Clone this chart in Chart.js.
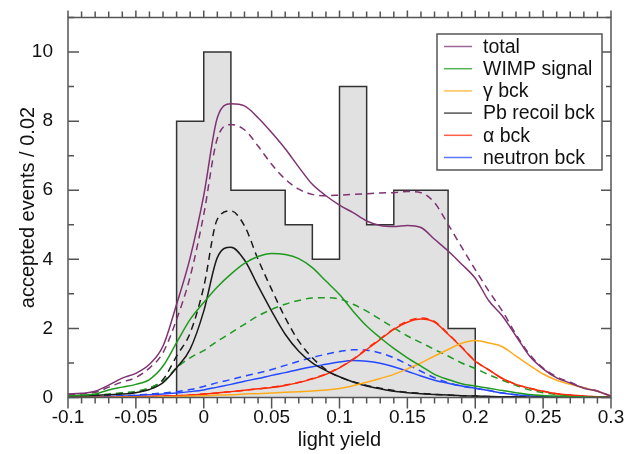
<!DOCTYPE html>
<html>
<head>
<meta charset="utf-8">
<script src="https://cdn.jsdelivr.net/npm/chart.js@4.4.1/dist/chart.umd.min.js"></script>
<style>
  html, body { margin: 0; padding: 0; background: #fff; }
  #wrap { width: 628px; height: 454px; }
</style>
</head>
<body>
<div id="wrap"><canvas id="c" width="628" height="454"></canvas></div>
<script>
// histogram of accepted events, bin width 0.02
var binLow = [-0.02, 0, 0.02, 0.04, 0.06, 0.08, 0.10, 0.12, 0.14, 0.16, 0.18];
var binCounts = [8, 10, 6, 6, 5, 4, 9, 5, 6, 6, 2];
var binWidth = 0.02;

// light-yield grid for the fitted spectra
var lightYield = [-0.1, -0.09, -0.08, -0.07, -0.06, -0.05, -0.04, -0.03, -0.02, -0.01,
  0, 0.01, 0.02, 0.03, 0.04, 0.05, 0.06, 0.07, 0.08, 0.09,
  0.1, 0.11, 0.12, 0.13, 0.14, 0.15, 0.16, 0.17, 0.18, 0.19,
  0.2, 0.21, 0.22, 0.23, 0.24, 0.25, 0.26, 0.27, 0.28, 0.29, 0.3];

// solid = best fit, dashed = alternative fit
var totalFit = [0.10, 0.12, 0.18, 0.36, 0.56, 0.70, 0.96, 1.49, 2.70, 4.05,
  5.85, 8.10, 8.50, 8.44, 8.10, 7.67, 7.20, 6.67, 6.17, 5.84,
  5.57, 5.35, 5.11, 4.98, 4.95, 4.98, 4.92, 4.58, 4.24, 3.86,
  3.45, 2.80, 2.36, 1.78, 1.20, 0.83, 0.57, 0.42, 0.27, 0.18, 0.04];
var totalAlt = [0.08, 0.10, 0.15, 0.30, 0.45, 0.58, 0.85, 1.30, 2.26, 3.50,
  5.30, 7.50, 7.90, 7.75, 7.28, 6.75, 6.32, 6.03, 5.88, 5.84,
  5.86, 5.88, 5.90, 5.92, 5.93, 5.96, 5.93, 5.64, 5.01, 4.35,
  3.70, 3.08, 2.50, 1.83, 1.25, 0.85, 0.60, 0.44, 0.28, 0.19, 0.04];
var wimpFit = [0.05, 0.07, 0.10, 0.22, 0.30, 0.38, 0.52, 0.91, 1.59, 2.26,
  2.75, 3.20, 3.57, 3.88, 4.08, 4.17, 4.14, 4.02, 3.76, 3.37,
  2.98, 2.50, 2.07, 1.73, 1.42, 1.15, 0.91, 0.67, 0.52, 0.40,
  0.33, 0.27, 0.20, 0.14, 0.09, 0.06, 0.04, 0.03, 0.02, 0.01, 0.01];
var wimpAlt = [0.04, 0.05, 0.07, 0.10, 0.14, 0.18, 0.28, 0.47, 0.86, 1.15,
  1.36, 1.63, 1.87, 2.12, 2.36, 2.55, 2.70, 2.81, 2.88, 2.89,
  2.85, 2.70, 2.50, 2.26, 2.02, 1.78, 1.59, 1.39, 1.20, 1.00,
  0.84, 0.66, 0.50, 0.35, 0.22, 0.14, 0.09, 0.05, 0.03, 0.02, 0.01];
var gammaFit = [0, 0, 0, 0, 0.01, 0.01, 0.01, 0.02, 0.03, 0.04,
  0.05, 0.07, 0.08, 0.10, 0.11, 0.13, 0.15, 0.17, 0.19, 0.22,
  0.26, 0.34, 0.44, 0.55, 0.67, 0.83, 1.00, 1.20, 1.39, 1.57,
  1.65, 1.58, 1.47, 1.20, 0.93, 0.68, 0.50, 0.38, 0.28, 0.18, 0.04];
var pbFit = [0.03, 0.04, 0.06, 0.08, 0.10, 0.14, 0.23, 0.43, 0.86, 1.40,
  2.50, 4.05, 4.35, 3.98, 3.23, 2.50, 1.83, 1.34, 1.00, 0.78,
  0.60, 0.45, 0.33, 0.25, 0.18, 0.14, 0.11, 0.09, 0.07, 0.05,
  0.04, 0.03, 0.02, 0.02, 0.01, 0.01, 0.01, 0, 0, 0, 0];
var pbAlt = [0.03, 0.04, 0.06, 0.08, 0.12, 0.16, 0.27, 0.52, 1.20, 1.87,
  3.20, 5.16, 5.40, 4.97, 4.00, 3.13, 2.31, 1.63, 1.15, 0.81,
  0.59, 0.46, 0.35, 0.27, 0.20, 0.15, 0.12, 0.09, 0.07, 0.05,
  0.04, 0.03, 0.02, 0.02, 0.01, 0.01, 0.01, 0, 0, 0, 0];
var alphaFit = [0, 0, 0.01, 0.01, 0.02, 0.02, 0.03, 0.04, 0.05, 0.07,
  0.10, 0.13, 0.17, 0.21, 0.25, 0.29, 0.35, 0.43, 0.54, 0.67,
  0.86, 1.10, 1.39, 1.68, 1.97, 2.18, 2.27, 2.18, 1.83, 1.45,
  1.05, 0.80, 0.55, 0.38, 0.27, 0.18, 0.11, 0.07, 0.04, 0.02, 0.01];
var alphaAlt = [0, 0, 0.01, 0.01, 0.02, 0.02, 0.03, 0.04, 0.05, 0.07,
  0.10, 0.13, 0.17, 0.21, 0.25, 0.30, 0.36, 0.44, 0.55, 0.68,
  0.87, 1.11, 1.41, 1.70, 1.99, 2.21, 2.30, 2.20, 1.85, 1.46,
  1.06, 0.80, 0.55, 0.38, 0.27, 0.18, 0.11, 0.07, 0.04, 0.02, 0.01];
var neutronFit = [0, 0.01, 0.02, 0.03, 0.04, 0.06, 0.08, 0.10, 0.13, 0.17,
  0.22, 0.30, 0.38, 0.47, 0.55, 0.64, 0.72, 0.81, 0.89, 0.96,
  1.03, 1.07, 1.05, 0.99, 0.89, 0.76, 0.62, 0.50, 0.41, 0.33,
  0.27, 0.20, 0.13, 0.08, 0.05, 0.03, 0.02, 0.01, 0.01, 0, 0];
var neutronAlt = [0, 0.01, 0.02, 0.04, 0.05, 0.07, 0.10, 0.13, 0.17, 0.23,
  0.32, 0.43, 0.52, 0.62, 0.71, 0.81, 0.93, 1.05, 1.16, 1.25,
  1.33, 1.38, 1.37, 1.29, 1.15, 0.96, 0.76, 0.57, 0.43, 0.33,
  0.27, 0.20, 0.13, 0.08, 0.05, 0.03, 0.02, 0.01, 0.01, 0, 0];

var FONT = '"Liberation Sans", Arial, Helvetica, sans-serif';
var DASH = [7, 5];

function pts(ys) {
  return lightYield.map(function (x, i) { return { x: x, y: ys[i] }; });
}

// closed step outline of the histogram
function histPoints() {
  var p = [{ x: binLow[0], y: 0 }];
  binLow.forEach(function (x, i) { p.push({ x: x, y: binCounts[i] }); });
  p.push({ x: binLow[binLow.length - 1] + binWidth, y: 0 });
  return p;
}

function curve(label, ys, color, dashed) {
  return {
    label: label,
    data: pts(ys),
    borderColor: color,
    borderWidth: 1.5,
    borderDash: dashed ? DASH : [],
    cubicInterpolationMode: 'monotone',
    fill: false,
    pointRadius: 0,
    inLegend: !dashed,
    order: 1
  };
}

var C_TOTAL = '#7f3373', C_WIMP = '#1f9a1f', C_GAMMA = '#ffab1a',
    C_PB = '#1a1a1a', C_ALPHA = '#ff2a0a', C_NEUTRON = '#2448ff';

var datasets = [
  curve('total', totalFit, C_TOTAL, false),
  curve('WIMP signal', wimpFit, C_WIMP, false),
  curve('\u03b3 bck', gammaFit, C_GAMMA, false),
  curve('Pb recoil bck', pbFit, C_PB, false),
  curve('\u03b1 bck', alphaFit, C_ALPHA, false),
  curve('neutron bck', neutronFit, C_NEUTRON, false),
  curve('total (alt)', totalAlt, C_TOTAL, true),
  curve('WIMP signal (alt)', wimpAlt, C_WIMP, true),
  curve('Pb recoil bck (alt)', pbAlt, C_PB, true),
  curve('\u03b1 bck (alt)', alphaAlt, C_ALPHA, true),
  curve('neutron bck (alt)', neutronAlt, C_NEUTRON, true),
  {
    label: 'data',
    data: histPoints(),
    stepped: 'before',
    borderColor: '#333',
    borderWidth: 1.5,
    backgroundColor: '#e1e1e1',
    fill: 'origin',
    pointRadius: 0,
    inLegend: false,
    order: 10
  }
];

// box frame with minor/major ticks and the in-plot legend
var framePlugin = {
  id: 'frame',
  afterDatasetsDraw: function (chart) {
    var ctx = chart.ctx, a = chart.chartArea;
    var xs = chart.scales.x, ys = chart.scales.y;
    ctx.save();
    ctx.strokeStyle = '#555';
    ctx.lineWidth = 1.5;
    ctx.strokeRect(a.left, a.top, a.right - a.left, a.bottom - a.top);

    ctx.beginPath();
    xs.ticks.forEach(function (t) {
      var px = xs.getPixelForValue(t.value);
      var major = Math.abs(Math.round(t.value * 100) % 5) === 0;
      ctx.moveTo(px, a.bottom);
      ctx.lineTo(px, a.bottom + (major ? 11 : 6));
      ctx.moveTo(px, a.top);
      ctx.lineTo(px, a.top - (major ? 7 : 6));
    });
    ys.ticks.forEach(function (t) {
      var py = ys.getPixelForValue(t.value);
      var major = t.value % 2 === 0;
      ctx.moveTo(a.left, py);
      ctx.lineTo(a.left + (major ? 11 : 6), py);
      ctx.moveTo(a.right, py);
      ctx.lineTo(a.right - (major ? 10 : 5), py);
    });
    ctx.stroke();

    // legend
    var items = chart.data.datasets.filter(function (d) { return d.inLegend; });
    var bx = 437, by = 34, bw = 165, bh = 136;
    ctx.fillStyle = '#fff';
    ctx.fillRect(bx, by, bw, bh);
    ctx.strokeStyle = '#555';
    ctx.lineWidth = 1.5;
    ctx.strokeRect(bx, by, bw, bh);
    ctx.font = '19.5px ' + FONT;
    ctx.textBaseline = 'middle';
    ctx.textAlign = 'left';
    items.forEach(function (d, i) {
      var ry = by + 12.5 + i * 22.2;
      ctx.strokeStyle = d.borderColor;
      ctx.globalAlpha = 0.75;
      ctx.lineWidth = 1.5;
      ctx.beginPath();
      ctx.moveTo(bx + 7, ry);
      ctx.lineTo(bx + 35, ry);
      ctx.stroke();
      ctx.globalAlpha = 1;
      ctx.fillStyle = '#111';
      ctx.fillText(d.label, bx + 46, ry + 1);
    });
    ctx.restore();
  }
};

new Chart(document.getElementById('c'), {
  type: 'line',
  data: { datasets: datasets },
  options: {
    responsive: false,
    animation: false,
    devicePixelRatio: 1,
    layout: { padding: { top: 17.5, right: 17, left: 0, bottom: 0 } },
    plugins: { legend: { display: false }, tooltip: { enabled: false } },
    scales: {
      x: {
        type: 'linear', min: -0.1, max: 0.3,
        grid: { display: false, drawTicks: false },
        border: { display: false },
        ticks: {
          stepSize: 0.01, autoSkip: false, maxRotation: 0, padding: 9,
          color: '#111', font: { family: FONT, size: 19 },
          callback: function (v) {
            var k = Math.round(v * 100);
            return k % 5 === 0 ? String(+(k / 100).toFixed(2)) : '';
          }
        },
        title: {
          display: true, text: 'light yield', color: '#111',
          font: { family: FONT, size: 20 }, padding: { top: 0, bottom: 2 }
        },
        afterFit: function (s) {
          s.height = 56.5;
          s.paddingLeft = 0;
          s.paddingRight = 0;
        }
      },
      y: {
        min: 0, max: 11,
        grid: { display: false, drawTicks: false },
        border: { display: false },
        ticks: {
          stepSize: 1, padding: 15,
          color: '#111', font: { family: FONT, size: 19 },
          callback: function (v) { return v % 2 === 0 && v <= 10 ? String(v) : ''; }
        },
        title: {
          display: true, text: 'accepted events / 0.02', color: '#111',
          font: { family: FONT, size: 20 }, padding: { top: 16, bottom: 0 }
        },
        afterFit: function (s) {
          s.width = 68;
          s.paddingTop = 0;
          s.paddingBottom = 0;
        }
      }
    }
  },
  plugins: [framePlugin]
});
</script>
</body>
</html>
